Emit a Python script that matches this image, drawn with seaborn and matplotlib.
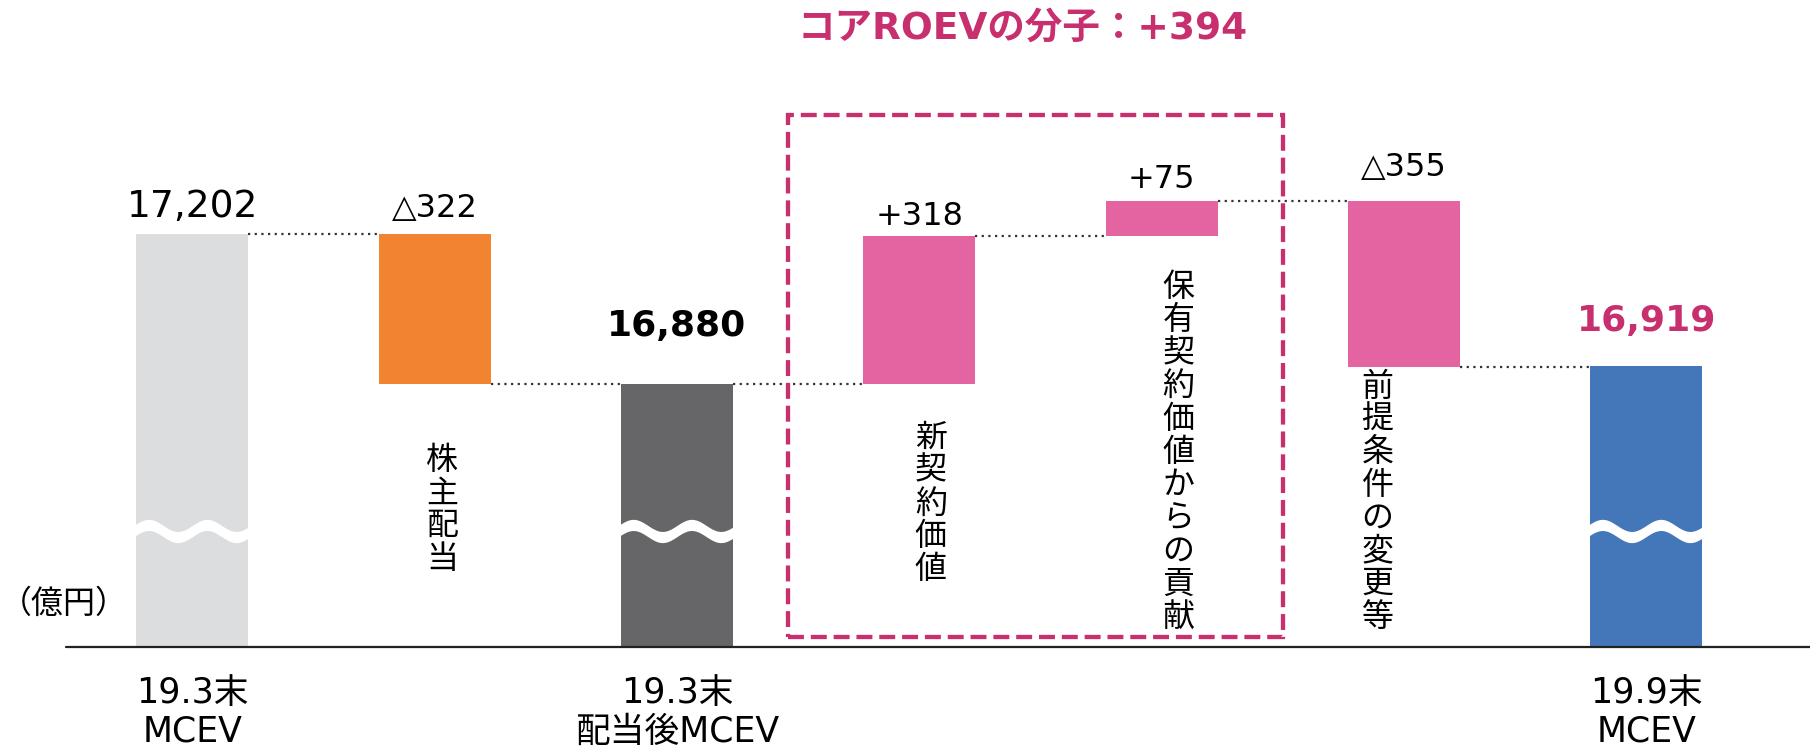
import matplotlib
matplotlib.use("Agg")
import matplotlib.pyplot as plt
from matplotlib.patches import Rectangle
import numpy as np
import pandas as pd
import seaborn as sns

# EV bridge, 億円
items = ["19.3末\nMCEV", "株主配当", "19.3末\n配当後MCEV", "新契約価値",
         "保有契約価値からの貢献", "前提条件の変更等", "19.9末\nMCEV"]
kinds = ["total", "delta", "total", "delta", "delta", "delta", "total"]
values = [17202, -322, 16880, 318, 75, -355, 16919]
bar_colors = ["#DCDDDF", "#F28330", "#666668", "#E364A1", "#E364A1", "#E364A1", "#4476BA"]
title = "コアROEVの分子：+394"
unit = "（億円）"
core_items = ["新契約価値", "保有契約価値からの貢献"]

MAGENTA = "#C82F6E"
W = 0.462

# waterfall geometry
tops, bottoms, ends = [], [], []
level = 0
for k, v in zip(kinds, values):
    if k == "total":
        level = v
        bottoms.append(0)
        tops.append(v)
    else:
        start = level
        level = start + v
        bottoms.append(min(start, level))
        tops.append(max(start, level))
    ends.append(level)

def value_text(k, v):
    if k == "total":
        return f"{v:,}"
    return ("+" if v > 0 else "△") + str(abs(v))

df = pd.DataFrame({"item": items, "top": tops, "bottom": bottoms})

sns.set_style("white")
plt.rcParams["font.family"] = ["DejaVu Sans", "Noto Sans CJK JP"]
plt.rcParams["text.color"] = "black"
plt.rcParams["xtick.color"] = "black"

fig = plt.figure(figsize=(18.1, 7.53), dpi=100)
ax = fig.add_axes([0, 106.5 / 753, 1, 646.5 / 753])

sns.barplot(data=df, x="item", y="top", hue="item", palette=bar_colors, width=W,
            saturation=1, linewidth=0, errorbar=None, legend=False, ax=ax)
sns.barplot(data=df, x="item", y="bottom", color="white", width=W,
            saturation=1, linewidth=0, errorbar=None, ax=ax)

y0 = 16317
ax.set_ylim(y0, y0 + 646.5 * 2.147)
ax.set_xlim(-0.794, 6.676)
ax.set_yticks([])
ax.set_xlabel("")
ax.set_ylabel("")
for s in ax.spines.values():
    s.set_visible(False)

# axis break waves on total bars
t = np.linspace(0, 1, 200)
for i, k in enumerate(kinds):
    if k != "total":
        continue
    xs = i - W / 2 - 0.01 + t * (W + 0.02)
    yc = 16565 + 13 * np.sin(4 * np.pi * t)
    ax.fill_between(xs, yc - 12, yc + 12, color="white", lw=0, zorder=3)

# dotted connectors
for i in range(len(items) - 1):
    ax.plot([i + W / 2, i + 1 - W / 2], [ends[i], ends[i]], color="#333333",
            lw=1.6, ls=(0, (1, 2)), zorder=2)

# value labels above bars
pads = [12.5, 12.5, 35, 8.3, 9.6, 17.9, 25]
for i, (k, v) in enumerate(zip(kinds, values)):
    style = dict(fontsize=23, color="black", fontweight="normal")
    if k == "total":
        style["fontsize"] = 27
        if i > 0:
            style.update(fontsize=26, fontweight="bold")
        if i == len(items) - 1:
            style["color"] = MAGENTA
    ax.annotate(value_text(k, v), xy=(i, tops[i]), xytext=(0, pads[i]),
                textcoords="offset points", ha="center", va="baseline", **style)

# vertical labels under the change bars
vgaps = [43, 26.6, 25, 2.5]
vshift = [5.4, 8.3, 12, -19]
pitch = 23.7
j = 0
for i, k in enumerate(kinds):
    if k != "delta":
        continue
    for n, ch in enumerate(items[i]):
        ax.annotate(ch, xy=(i, bottoms[i]), xytext=(vshift[j], -(vgaps[j] + pitch / 2 + n * pitch)),
                    textcoords="offset points", ha="center", va="center",
                    fontsize=23, family="Noto Sans CJK JP", color="black")
    j += 1

# category labels under totals
ax.set_xticks(range(len(items)))
ax.set_xticklabels([it if k == "total" else "" for it, k in zip(items, kinds)],
                   fontsize=25, linespacing=1.18, color="black")
ax.tick_params(axis="x", length=0, pad=21)

# baseline
ax.axhline(y0, xmin=66 / 1810, xmax=1, color="#222222", lw=1.6, clip_on=False, zorder=4)

# dashed box around core items
c0 = items.index(core_items[0])
c1 = items.index(core_items[1])
ax.add_patch(Rectangle((c0 - 0.54, 16337), (c1 - c0) + 1.043, 17458 - 16337,
                       fill=False, edgecolor=MAGENTA, lw=3.1, ls=(0, (3.7, 1.6)), zorder=5))

fig.text(0.565, 1 - 29 / 753, title, ha="center", va="center", fontsize=27,
         fontweight="bold", color=MAGENTA)
fig.text(0.0, 0.198, unit, ha="left", va="center", fontsize=23, family="Noto Sans CJK JP")

fig.savefig("out.png", dpi=100)
